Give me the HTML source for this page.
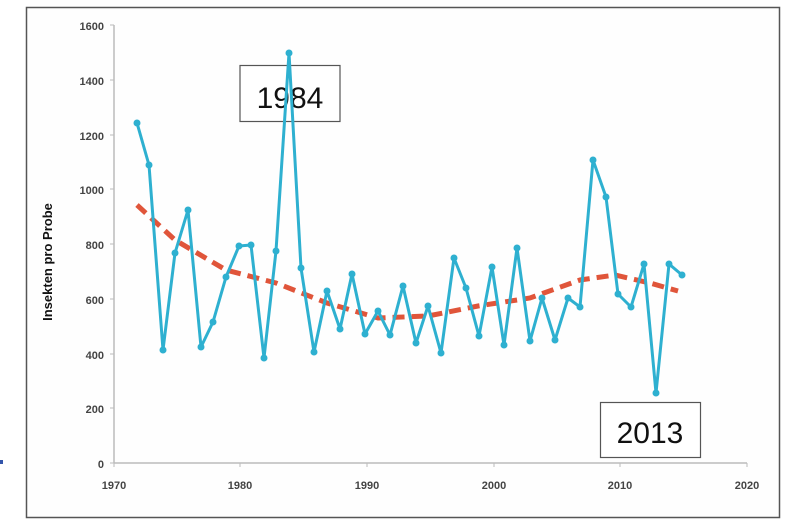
<!DOCTYPE html>
<html><head><style>
body{margin:0;background:#fff;width:801px;height:527px;overflow:hidden}
svg{position:absolute;left:0;top:0}
</style></head><body>
<svg width="801" height="527" viewBox="0 0 801 527" font-family="Liberation Sans, sans-serif">
<rect x="26.5" y="7.5" width="753" height="510" fill="#fefefe" stroke="#555" stroke-width="1.5"/>
<g stroke="#bbb" stroke-width="1.5" fill="none">
<line x1="114" y1="25" x2="114" y2="463"/>
<line x1="114" y1="463" x2="747" y2="463"/>
<g stroke-width="1">
<line x1="110" y1="25" x2="114" y2="25"/><line x1="110" y1="80" x2="114" y2="80"/><line x1="110" y1="135" x2="114" y2="135"/><line x1="110" y1="189" x2="114" y2="189"/><line x1="110" y1="244" x2="114" y2="244"/><line x1="110" y1="299" x2="114" y2="299"/><line x1="110" y1="354" x2="114" y2="354"/><line x1="110" y1="408" x2="114" y2="408"/><line x1="110" y1="463" x2="114" y2="463"/>
<line x1="114" y1="463" x2="114" y2="467"/><line x1="240" y1="463" x2="240" y2="467"/><line x1="367" y1="463" x2="367" y2="467"/><line x1="494" y1="463" x2="494" y2="467"/><line x1="620" y1="463" x2="620" y2="467"/><line x1="747" y1="463" x2="747" y2="467"/>
</g></g>
<g font-size="11" font-weight="bold" fill="#444" text-anchor="end">
<text x="104" y="30">1600</text><text x="104" y="85">1400</text><text x="104" y="140">1200</text><text x="104" y="194">1000</text><text x="104" y="249">800</text><text x="104" y="304">600</text><text x="104" y="359">400</text><text x="104" y="413">200</text><text x="104" y="468">0</text>
</g>
<g font-size="11" font-weight="bold" fill="#444" text-anchor="middle">
<text x="114" y="489">1970</text><text x="240" y="489">1980</text><text x="367" y="489">1990</text><text x="494" y="489">2000</text><text x="620" y="489">2010</text><text x="747" y="489">2020</text>
</g>
<text transform="translate(52,262) rotate(-90)" font-size="13" font-weight="bold" fill="#111" text-anchor="middle">Insekten pro Probe</text>
<rect x="240" y="65.5" width="100" height="56" fill="#fff" stroke="#555" stroke-width="1.2"/>
<text x="290" y="108" font-size="30" fill="#111" text-anchor="middle">1984</text>
<polyline fill="none" stroke="#e0553a" stroke-width="5" stroke-dasharray="12,7" points="137,205 175,240 226,270 276,283 327,303 378,318 428,316 478,306 530,298 580,280 615,275 650,283 678,291"/>
<polyline fill="none" stroke="#2eb0d0" stroke-width="3" stroke-linejoin="round" points="137,123 149,165 163,350 175,253 188,210 201,347 213,322 226,277 239,246 251,245 264,358 276,251 289,53 301,268 314,352 327,291 340,329 352,274 365,334 378,311 390,335 403,286 416,343 428,306 441,353 454,258 466,288 479,336 492,267 504,345 517,248 530,341 542,298 555,340 568,298 580,307 593,160 606,197 618,294 631,307 644,264 656,393 669,264 682,275"/>
<g fill="#2eb0d0">
<circle cx="137" cy="123" r="3.5"/><circle cx="149" cy="165" r="3.5"/><circle cx="163" cy="350" r="3.5"/><circle cx="175" cy="253" r="3.5"/><circle cx="188" cy="210" r="3.5"/><circle cx="201" cy="347" r="3.5"/><circle cx="213" cy="322" r="3.5"/><circle cx="226" cy="277" r="3.5"/><circle cx="239" cy="246" r="3.5"/><circle cx="251" cy="245" r="3.5"/><circle cx="264" cy="358" r="3.5"/><circle cx="276" cy="251" r="3.5"/><circle cx="289" cy="53" r="3.5"/><circle cx="301" cy="268" r="3.5"/><circle cx="314" cy="352" r="3.5"/><circle cx="327" cy="291" r="3.5"/><circle cx="340" cy="329" r="3.5"/><circle cx="352" cy="274" r="3.5"/><circle cx="365" cy="334" r="3.5"/><circle cx="378" cy="311" r="3.5"/><circle cx="390" cy="335" r="3.5"/><circle cx="403" cy="286" r="3.5"/><circle cx="416" cy="343" r="3.5"/><circle cx="428" cy="306" r="3.5"/><circle cx="441" cy="353" r="3.5"/><circle cx="454" cy="258" r="3.5"/><circle cx="466" cy="288" r="3.5"/><circle cx="479" cy="336" r="3.5"/><circle cx="492" cy="267" r="3.5"/><circle cx="504" cy="345" r="3.5"/><circle cx="517" cy="248" r="3.5"/><circle cx="530" cy="341" r="3.5"/><circle cx="542" cy="298" r="3.5"/><circle cx="555" cy="340" r="3.5"/><circle cx="568" cy="298" r="3.5"/><circle cx="580" cy="307" r="3.5"/><circle cx="593" cy="160" r="3.5"/><circle cx="606" cy="197" r="3.5"/><circle cx="618" cy="294" r="3.5"/><circle cx="631" cy="307" r="3.5"/><circle cx="644" cy="264" r="3.5"/><circle cx="656" cy="393" r="3.5"/><circle cx="669" cy="264" r="3.5"/><circle cx="682" cy="275" r="3.5"/>
</g>
<rect x="600.5" y="402.5" width="100" height="55" fill="#fff" stroke="#555" stroke-width="1.2"/>
<text x="650" y="443" font-size="30" fill="#111" text-anchor="middle">2013</text>
<rect x="0" y="460" width="3" height="4" fill="#3355aa"/>
</svg>
</body></html>
